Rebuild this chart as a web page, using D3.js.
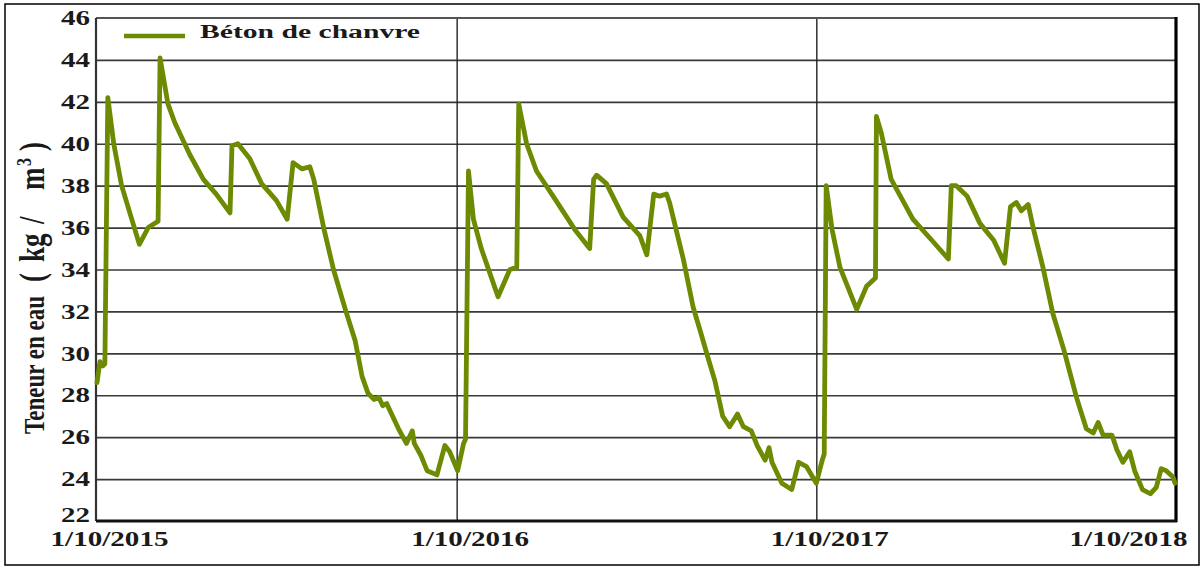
<!DOCTYPE html>
<html><head><meta charset="utf-8">
<script src="https://cdn.jsdelivr.net/npm/d3@7"></script>
<style>
html,body{margin:0;padding:0;background:#fff;}
svg{display:block;}
text{font-family:"Liberation Serif","Times New Roman",serif;font-weight:bold;fill:#1a1a1a;}
</style></head>
<body><svg id="c" width="1204" height="569"></svg>
<script>
const seriesName = "Béton de chanvre";
const yTitleParts = ["Teneur en eau", "(", "kg", "/", "m", "3", ")"];
const yTicks = [22,24,26,28,30,32,34,36,38,40,42,44,46];
const xTickDates = ["2015-10-01","2016-10-01","2017-10-01","2018-10-01"];
const dates = [
"2015-10-02","2015-10-05","2015-10-08","2015-10-10","2015-10-13","2015-10-19","2015-10-27","2015-11-14","2015-11-23","2015-12-03",
"2015-12-05","2015-12-13","2015-12-20","2016-01-04","2016-01-18","2016-01-31","2016-02-14","2016-02-16","2016-02-22","2016-03-05",
"2016-03-17","2016-04-01","2016-04-12","2016-04-18","2016-04-27","2016-05-05","2016-05-09","2016-05-19","2016-05-29","2016-06-10",
"2016-06-20","2016-06-27","2016-07-03","2016-07-09","2016-07-14","2016-07-18","2016-07-22","2016-07-26","2016-08-03","2016-08-11",
"2016-08-17","2016-08-19","2016-08-26","2016-09-01","2016-09-11","2016-09-19","2016-09-24","2016-10-02","2016-10-08","2016-10-10",
"2016-10-13","2016-10-18","2016-10-26","2016-11-12","2016-11-24","2016-12-01","2016-12-03","2016-12-11","2016-12-21","2017-01-11",
"2017-01-29","2017-02-13","2017-02-17","2017-02-20","2017-03-02","2017-03-19","2017-04-05","2017-04-12","2017-04-19","2017-04-25",
"2017-05-02","2017-05-05","2017-05-19","2017-05-29","2017-06-05","2017-06-13","2017-06-20","2017-06-28","2017-07-05","2017-07-13",
"2017-07-19","2017-07-27","2017-08-02","2017-08-10","2017-08-14","2017-08-17","2017-08-27","2017-09-06","2017-09-13","2017-09-21",
"2017-10-01","2017-10-07","2017-10-09","2017-10-11","2017-10-17","2017-10-25","2017-11-11","2017-11-21","2017-11-30","2017-12-01",
"2017-12-06","2017-12-16","2018-01-07","2018-01-28","2018-02-12","2018-02-15","2018-02-20","2018-03-03","2018-03-16","2018-03-30",
"2018-04-10","2018-04-16","2018-04-22","2018-04-27","2018-05-04","2018-05-09","2018-05-19","2018-05-29","2018-06-09","2018-06-22",
"2018-07-02","2018-07-09","2018-07-14","2018-07-19","2018-07-28","2018-08-02","2018-08-08","2018-08-15","2018-08-20","2018-08-28",
"2018-09-05","2018-09-11","2018-09-16","2018-09-21","2018-09-28","2018-09-30"
];
const values = [
28.6,29.6,29.4,29.5,42.2,40.0,38.0,35.2,36.0,36.3,
44.1,41.9,41.0,39.5,38.3,37.6,36.7,39.9,40.0,39.3,
38.1,37.3,36.4,39.1,38.8,38.9,38.3,36.0,34.0,32.1,
30.6,28.9,28.1,27.8,27.9,27.5,27.6,27.2,26.4,25.7,
26.3,25.7,25.1,24.4,24.2,25.6,25.3,24.4,25.7,25.9,
38.7,36.4,35.0,32.7,34.0,34.1,41.9,40.0,38.7,37.2,
35.9,35.0,38.3,38.5,38.1,36.5,35.6,34.7,37.6,37.5,
37.6,37.2,34.5,32.2,31.1,29.8,28.7,27.0,26.5,27.1,
26.5,26.3,25.6,24.9,25.5,24.8,23.8,23.5,24.8,24.6,
23.8,24.9,25.2,38.0,35.9,34.1,32.1,33.2,33.6,41.3,
40.5,38.3,36.4,35.3,34.5,38.0,38.0,37.5,36.2,35.4,
34.3,37.0,37.2,36.8,37.1,36.0,34.1,31.9,30.2,27.9,
26.4,26.2,26.7,26.1,26.1,25.4,24.8,25.3,24.4,23.5,
23.3,23.6,24.5,24.4,24.1,23.8
];

const parse = d3.timeParse("%Y-%m-%d");
const data = dates.map((d,i)=>({date:parse(d), value:values[i]}));
const svg = d3.select("#c");
const L=96,R=1176,T=18,B=521;
const x = d3.scaleTime().domain([parse(xTickDates[0]), parse(xTickDates[3])]).range([L,R]);
const y = d3.scaleLinear().domain([22,46]).range([B,T]);
const lineColor = "#6c8a02";

// outer frame
svg.append("rect").attr("x",5).attr("y",4).attr("width",1194).attr("height",561)
  .attr("fill","none").attr("stroke","#000").attr("stroke-width",1.5);

// horizontal grid
svg.append("g").attr("transform",`translate(${L},0)`)
  .call(d3.axisLeft(y).tickValues(yTicks.filter(v=>v>22&&v<46)).tickSize(-(R-L)).tickFormat(""))
  .call(g=>g.select(".domain").remove())
  .call(g=>g.selectAll("line").attr("stroke","#3a3a3a").attr("stroke-width",1.6));
// vertical year grid
svg.append("g").attr("transform",`translate(0,${B})`)
  .call(d3.axisBottom(x).tickValues(xTickDates.slice(1,3).map(parse)).tickSize(-(B-T)).tickFormat(""))
  .call(g=>g.select(".domain").remove())
  .call(g=>g.selectAll("line").attr("stroke","#222").attr("stroke-width",1.4));

// frame lines
svg.append("line").attr("x1",L).attr("x2",R).attr("y1",T).attr("y2",T).attr("stroke","#555").attr("stroke-width",2.2);
svg.append("line").attr("x1",L).attr("x2",L).attr("y1",T).attr("y2",B).attr("stroke","#333").attr("stroke-width",2.2);
svg.append("line").attr("x1",R).attr("x2",R).attr("y1",T-1).attr("y2",B+1).attr("stroke","#000").attr("stroke-width",3.2);
svg.append("line").attr("x1",L).attr("x2",R+1).attr("y1",B).attr("y2",B).attr("stroke","#111").attr("stroke-width",3);

// data line
svg.append("path").datum(data)
  .attr("fill","none").attr("stroke",lineColor).attr("stroke-width",4.8)
  .attr("stroke-linejoin","round").attr("stroke-linecap","round")
  .attr("d", d3.line().x(d=>x(d.date)).y(d=>y(d.value)));

// y tick labels
const yl = svg.append("g").attr("transform",`translate(${L},0)`)
  .call(d3.axisLeft(y).tickValues(yTicks).tickSize(0).tickPadding(6).tickFormat(d3.format("d")));
yl.select(".domain").remove();
yl.selectAll("text").attr("font-size",21).attr("fill","#1a1a1a")
  .attr("font-family","Liberation Serif, serif").attr("font-weight","bold")
  .attr("x",-6).attr("textLength",29).attr("lengthAdjust","spacingAndGlyphs")
  .attr("y",d=>d===22?-6:0);

// x tick labels
const fmt = d3.timeFormat("%-d/%m/%Y");
const xl = svg.append("g").attr("transform",`translate(0,${B})`)
  .call(d3.axisBottom(x).tickValues(xTickDates.map(parse)).tickSize(0).tickFormat(fmt));
xl.select(".domain").remove();
xl.selectAll("text").attr("font-size",20).attr("fill","#1a1a1a")
  .attr("font-family","Liberation Serif, serif").attr("font-weight","bold")
  .attr("y",25).attr("dy",0)
  .attr("textLength",118).attr("lengthAdjust","spacingAndGlyphs")
  .attr("text-anchor",(d,i)=>i===3?"end":"middle")
  .attr("x",(d,i)=>i===3?11:13);

// y title (rotated, glyphs stretched like the reference)
const tt = svg.append("text").attr("transform","translate(44,434) rotate(-90) scale(1,1.3)")
  .attr("font-size",23).attr("fill","#1a1a1a");
const titleX = [0,152,172,210,244,268,283];
yTitleParts.forEach((p,i)=>{
  const ts = tt.append("tspan").attr("x",titleX[i]).text(p);
  if(i>0) ts.attr("font-size",27);
  if(i===5) ts.attr("font-size",16).attr("dy",-10);
  if(i===6) ts.attr("dy",10);
});

// legend
svg.append("line").attr("x1",124).attr("x2",185).attr("y1",36).attr("y2",36)
  .attr("stroke",lineColor).attr("stroke-width",4.5);
svg.append("text").attr("x",200).attr("y",38).attr("font-size",18)
  .attr("textLength",220).attr("lengthAdjust","spacingAndGlyphs").text(seriesName);
</script></body></html>
